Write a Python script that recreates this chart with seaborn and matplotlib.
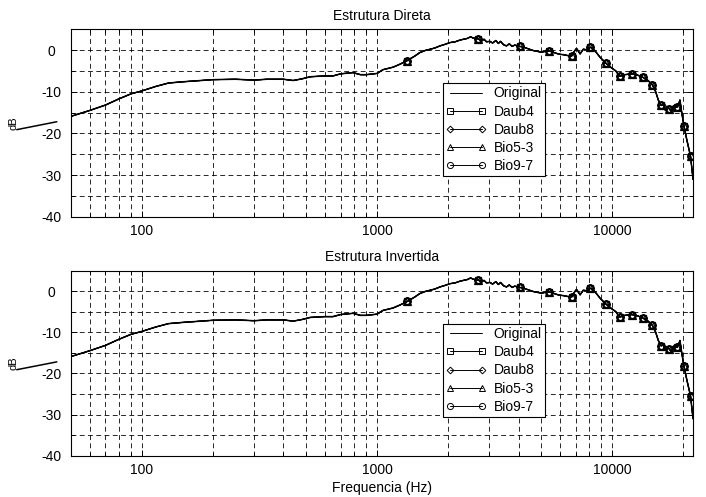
import matplotlib
matplotlib.use("Agg")
import matplotlib.pyplot as plt
import numpy as np
import pandas as pd
import seaborn as sns
from matplotlib.lines import Line2D
from matplotlib.ticker import LogLocator, FixedLocator, FixedFormatter, MultipleLocator, NullFormatter

# ---------------- data ----------------
panel_titles = ["Estrutura Direta", "Estrutura Invertida"]
x_label = "Frequencia (Hz)"
y_label = "dB"
series_names = ["Original", "Daub4", "Daub8", "Bio5-3", "Bio9-7"]

freq_hz = [50, 60, 70, 80, 90, 100, 115, 130, 150, 200, 250, 300, 340, 400, 440, 480,
           520, 600, 650, 700, 790, 850, 900, 1000, 1060, 1170, 1250, 1346, 1450, 1520,
           1600, 1680, 1760, 1850, 1950, 2040, 2150, 2250, 2330, 2420, 2500, 2560, 2692,
           2780, 2850, 2920, 3020, 3100, 3200, 3280, 3350, 3450, 3550, 3650, 3750, 3850,
           4037, 4200, 4400, 4610, 4800, 5000, 5200, 5383, 5600, 5800, 5980, 6200, 6450,
           6728, 6900, 7050, 7300, 7530, 7800, 8074, 8400, 8900, 9419, 9900, 10350, 10765,
           11300, 12111, 12800, 13456, 14200, 14802, 15300, 15700, 16148, 16500, 16800,
           17100, 17493, 17800, 18200, 18839, 19150, 19400, 19700, 20184, 20800, 21530,
           22050]
orig_db = [-15.9, -14.5, -13.2, -11.7, -10.5, -9.8, -8.7, -7.9, -7.6, -7.1, -7.0, -7.2,
           -7.0, -7.0, -7.3, -6.9, -6.4, -6.2, -6.2, -5.7, -5.4, -5.9, -5.9, -5.6, -4.7,
           -4.1, -3.4, -2.5, -1.4, -0.6, -0.1, 0.2, 0.5, 1.0, 1.4, 1.8, 2.0, 2.4, 2.6, 2.8,
           3.2, 2.9, 2.7, 2.2, 2.6, 2.0, 2.1, 1.7, 2.3, 1.6, 2.1, 1.3, 1.0, 1.5, 0.9, 1.2,
           0.9, 0.7, 0.3, -0.1, -0.3, -0.5, -0.3, -0.2, -0.5, -0.8, -1.0, -1.1, -1.3,
           -1.4, -0.3, 0.4, -0.9, 0.2, 0.1, 0.7, 0.0, -1.8, -3.2, -4.2, -5.0, -6.3,
           -5.9, -5.7, -6.0, -6.5, -7.3, -8.3, -10.0, -12.0, -13.3, -13.0, -14.4,
           -13.5, -14.1, -14.7, -13.4, -13.7, -13.0, -12.0, -14.6, -18.3, -21.8, -25.5,
           -31.0]
# wavelet reconstructions lie on top of the original curve
daub4_db = list(orig_db)
daub8_db = list(orig_db)
bio53_db = list(orig_db)
bio97_db = list(orig_db)
marker_freq_hz = [1346, 2692, 4037, 5383, 6728, 8074, 9419, 10765, 12111, 13456,
                  14802, 16148, 17493, 18839, 20184, 21530]
# unclipped bit of the curve left of the axes (present in the reference)
stray_freq_hz = [29.4, 43.5]
stray_db = [-19.1, -17.2]

x_ticks = [100, 1000, 10000]
x_tick_labels = ["100", "1000", "10000"]
y_ticks = [0, -10, -20, -30, -40]
y_tick_labels = ["0", "-10", "-20", "-30", "-40"]

# ---------------- styling ----------------
sns.set_theme(style="ticks")
plt.rcParams["font.family"] = ["Liberation Sans", "DejaVu Sans"]
plt.rcParams["font.size"] = 10

fig = plt.figure(figsize=(7.06, 4.97), dpi=100)
axes = [fig.add_axes([0.1006, 0.5640, 0.8810, 0.3771]),
        fig.add_axes([0.1006, 0.0831, 0.8810, 0.3726])]

markers = ["s", "D", "^", "o"]
msizes = [5.0, 4.0, 5.2, 5.2]
series_vals = [daub4_db, daub8_db, bio53_db, bio97_db]
mark_idx = [freq_hz.index(f) for f in marker_freq_hz]

df = pd.DataFrame({"freq": freq_hz, "db": orig_db})

for ax, title in zip(axes, panel_titles):
    sns.lineplot(data=df, x="freq", y="db", ax=ax, color="black", linewidth=1.1,
                 legend=False)
    for vals, m, ms in zip(series_vals, markers, msizes):
        ax.plot(freq_hz, vals, color="black", linewidth=0.7, marker=m, markersize=ms,
                markerfacecolor="none", markeredgewidth=0.9, markevery=mark_idx)
    ax.plot(stray_freq_hz, stray_db, color="black", linewidth=1.1, clip_on=False)

    ax.set_xscale("log")
    ax.set_xlim(50, 22050)
    ax.set_ylim(-40, 5)
    ax.xaxis.set_major_locator(FixedLocator(x_ticks))
    ax.xaxis.set_major_formatter(FixedFormatter(x_tick_labels))
    ax.xaxis.set_minor_locator(LogLocator(base=10, subs=np.arange(2, 10)))
    ax.xaxis.set_minor_formatter(NullFormatter())
    ax.yaxis.set_major_locator(FixedLocator(y_ticks))
    ax.yaxis.set_major_formatter(FixedFormatter(y_tick_labels))
    ax.yaxis.set_minor_locator(MultipleLocator(5))

    ax.grid(True, which="both", linestyle=(0, (5, 3.5)), color="black", linewidth=0.7,
            alpha=0.85)
    ax.tick_params(which="both", direction="in", top=True, right=True, color="black",
                   width=0.7, labelsize=10, labelcolor="black")
    ax.tick_params(which="major", length=4)
    ax.tick_params(which="minor", length=3)
    ax.tick_params(axis="x", pad=5)
    ax.tick_params(axis="y", pad=14)
    for lbl in ax.get_yticklabels():
        lbl.set_horizontalalignment("center")
    for sp in ax.spines.values():
        sp.set_color("black")
        sp.set_linewidth(0.8)

    ax.set_title(title, fontsize=10, pad=7, color="black")
    ax.set_ylabel(y_label, fontsize=8, color="black")
    ax.yaxis.set_label_coords(-0.084, 0.5)
    ax.set_xlabel("")

    handles = [Line2D([], [], color="black", linewidth=0.7)]
    for m, ms in zip(markers, msizes):
        handles.append(Line2D([], [], color="black", linewidth=0.7, marker=m,
                              markersize=ms * 0.85, markerfacecolor="none",
                              markeredgewidth=0.7))
    leg = ax.legend(handles, series_names, loc="upper left",
                    bbox_to_anchor=(0.5976, 0.711), numpoints=2, fontsize=10,
                    frameon=True, fancybox=False, framealpha=1, edgecolor="black",
                    handlelength=2.9, handletextpad=0.55, labelspacing=0.3,
                    borderpad=0.22, borderaxespad=0)
    leg.get_frame().set_linewidth(0.8)
    for t in leg.get_texts():
        t.set_color("black")

axes[1].set_xlabel(x_label, fontsize=10, color="black", labelpad=3)

fig.savefig("out.png", dpi=100)
